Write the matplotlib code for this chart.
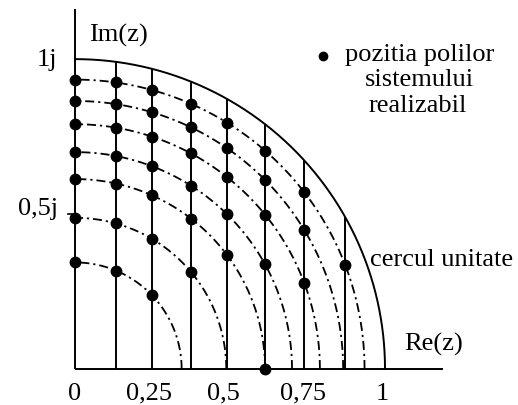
import numpy as np
import matplotlib
matplotlib.use("Agg")
import matplotlib.pyplot as plt

# Data
radii = [0.344, 0.488, 0.613, 0.70, 0.79, 0.865, 0.934, 1.0]
grid_x = [0.0, 0.132, 0.248, 0.374, 0.49, 0.613, 0.739, 0.871]
xtick_vals = [0, 0.24, 0.48, 0.735, 0.99]
xtick_labels = ["0", "0,25", "0,5", "0,75", "1"]

plt.rcParams['font.family'] = ['Liberation Serif', 'DejaVu Serif']
FS = 19

fig = plt.figure(figsize=(5.18, 4.06), dpi=100)
ax = fig.add_axes([0, 0, 1, 1])
ax.set_xlim(-0.242, 1.429)
ax.set_ylim(-0.116, 1.194)
ax.axis('off')

k = 'black'
# axes
ax.plot([0, 0], [0, 1.161], color=k, lw=1.4, solid_capstyle='butt')
ax.plot([0, 1.187], [0, 0], color=k, lw=1.4, solid_capstyle='butt')
# 0.5j tick
ax.plot([-0.022, 0], [0.5, 0.5], color=k, lw=1.2)

# circles
for r in radii:
    t = np.linspace(0, np.pi / 2, 400)
    if r >= 1.0:
        ax.plot(r * np.cos(t), r * np.sin(t), color=k, lw=1.4)
    else:
        ax.plot(r * np.cos(t), r * np.sin(t), color=k, lw=1.3,
                linestyle=(0, (5, 2.2, 1.2, 2.2)))

# vertical lines
for x in grid_x[1:]:
    ax.plot([x, x], [0, np.sqrt(1 - x * x)], color=k, lw=1.4, solid_capstyle='butt')

# poles at intersections
px, py = [], []
for x in grid_x:
    for r in radii[:-1]:
        if x <= r + 1e-9:
            px.append(x)
            py.append(np.sqrt(max(r * r - x * x, 0.0)))
ax.plot(px, py, 'o', color=k, ms=7.5, mec=k)

# labels
for xv, lab in zip(xtick_vals, xtick_labels):
    ax.text(xv, -0.077, lab, ha='center', va='center', fontsize=FS)
ax.text(-0.09, 1.0, "1j", ha='center', va='center', fontsize=FS)
ax.text(-0.119, 0.52, "0,5j", ha='center', va='center', fontsize=FS)
ax.text(0.139, 1.081, "Im(z)", ha='center', va='center', fontsize=FS)
ax.text(1.158, 0.081, "Re(z)", ha='center', va='center', fontsize=FS)
ax.text(1.181, 0.355, "cercul unitate", ha='center', va='center', fontsize=FS)

# legend
ax.plot([(323 - 75) / 310], [(370 - 57) / 310], 'o', color=k, ms=6)
ax.text((420 - 75) / 310, (370 - 55) / 310, "pozitia polilor", ha='center', va='center', fontsize=FS)
ax.text((419 - 75) / 310, (370 - 80) / 310, "sistemului", ha='center', va='center', fontsize=FS)
ax.text((418 - 75) / 310, (370 - 106) / 310, "realizabil", ha='center', va='center', fontsize=FS)

fig.savefig("out.png", dpi=100)
